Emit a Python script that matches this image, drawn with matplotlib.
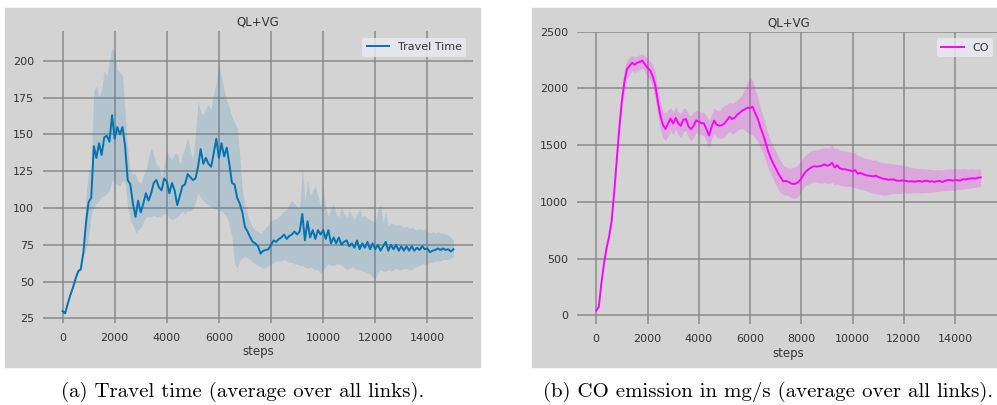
import numpy as np
import matplotlib
matplotlib.use("Agg")
import matplotlib.pyplot as plt
from matplotlib.patches import Rectangle

# simulation steps (one sample every 100 steps)
steps = np.arange(0, 15001, 100)

tt_mean = [
    30, 28.5, 35, 41, 46, 52, 57, 58.5, 70, 90,
    104, 107, 142, 134, 144, 136, 148, 149, 145, 163,
    147, 155, 150, 155, 142, 119, 116, 103, 94, 105,
    97, 103, 110, 105, 110, 117, 119, 114, 112, 120,
    118, 110, 117, 112, 102, 108, 115, 116, 123, 121,
    119, 120, 128, 140, 130, 134, 130, 128, 137, 147,
    134, 144, 135, 141, 130, 117, 116, 107, 103, 97,
    87, 84, 80, 77, 76, 74, 69, 71, 71.5, 72,
    75, 78, 77, 79, 80, 82, 79, 81, 82, 84,
    82, 84, 96, 78, 91, 80, 85, 79, 85, 82,
    85, 79, 85, 76, 80, 76, 80, 75, 77, 78,
    74, 76, 73, 78, 72, 76, 73, 77, 72, 76,
    72, 75, 71, 74, 77, 71, 75, 72, 75, 71,
    74, 71, 74, 71, 74, 71, 73, 71.5, 74, 72,
    72.5, 70, 71, 71.5, 72.5, 71.5, 72.5, 71.5, 72, 70.5,
    72,
]
tt_upper = [
    31, 30, 36, 42, 47, 53, 58, 60, 73, 110,
    125, 127, 180, 183, 176, 180, 193, 190, 200, 209,
    206, 194, 192, 190, 165, 140, 124, 123, 123, 118,
    117, 122, 126, 134, 141, 136, 130, 128, 121, 130,
    139, 135, 133, 137, 137, 130, 136, 142, 148, 140,
    133, 150, 173, 165, 163, 168, 170, 167, 178, 185,
    198, 188, 180, 173, 168, 162, 158, 155, 135, 112,
    102, 96, 90, 87, 85, 84, 83, 85, 87, 89,
    92, 92, 93, 94, 96, 98, 99, 103, 105, 103,
    101, 100, 128, 105, 119, 108, 112, 115, 108, 101,
    114, 100, 94, 100, 103, 96, 94, 101, 96, 94,
    98, 95, 92, 96, 99, 94, 95, 93, 92, 91,
    90, 99, 103, 90, 97, 88, 90, 89, 88, 89,
    88, 87, 88, 86, 87, 86, 85, 86, 85, 86,
    84, 83, 84, 83, 84, 83, 83, 82, 82, 80,
    78,
]
tt_lower = [
    29, 27.5, 34, 40, 45, 51, 56, 57, 67, 72,
    80, 95, 101, 103, 105, 108, 108, 110, 112, 119,
    117, 116, 115, 119, 117, 101, 92, 89, 83, 85,
    87, 90, 94, 94, 94, 95, 94, 94, 95, 96,
    96, 93, 92, 93, 94, 96, 98, 96, 98, 98,
    99, 104, 110, 107, 105, 103, 102, 101, 100, 99,
    99, 98, 96, 94, 88, 80, 62, 59, 64, 66,
    67, 66, 65, 63, 62, 61, 60, 59, 60, 61,
    62, 63, 64, 64, 64, 65, 64, 63, 63, 62,
    62, 61, 61, 60, 59, 60, 59, 58, 58, 56,
    58, 60, 62, 61, 61, 62, 62, 61, 60, 58,
    59, 60, 59, 58, 58, 57, 57, 56, 55, 53,
    52, 56, 58, 57, 57, 58, 57, 58, 59, 58,
    58, 59, 59, 58, 58, 60, 60, 61, 62, 62,
    62, 63, 63, 64, 64, 64, 65, 65, 65, 66,
    67,
]

co_mean = [
    40, 75, 280, 450, 590, 690, 830, 1080, 1370, 1650,
    1890, 2060, 2170, 2200, 2227, 2208, 2227, 2233, 2245, 2212,
    2180, 2160, 2110, 2030, 1890, 1760, 1680, 1642, 1690, 1735,
    1690, 1740, 1692, 1670, 1725, 1730, 1665, 1640, 1672, 1718,
    1707, 1694, 1692, 1640, 1585, 1660, 1716, 1680, 1672, 1675,
    1690, 1720, 1750, 1730, 1740, 1768, 1785, 1805, 1816, 1830,
    1826, 1839, 1783, 1735, 1660, 1600, 1530, 1450, 1390, 1340,
    1295, 1250, 1215, 1180, 1185, 1176, 1162, 1157, 1163, 1178,
    1205, 1245, 1272, 1290, 1305, 1315, 1310, 1314, 1320, 1330,
    1318, 1325, 1345, 1304, 1322, 1296, 1288, 1287, 1281, 1278,
    1268, 1280, 1248, 1255, 1245, 1236, 1231, 1229, 1224, 1232,
    1220, 1212, 1204, 1200, 1195, 1196, 1198, 1188, 1185, 1188,
    1187, 1184, 1179, 1182, 1178, 1181, 1184, 1178, 1184, 1186,
    1178, 1181, 1176, 1182, 1184, 1175, 1185, 1191, 1192, 1187,
    1192, 1190, 1187, 1199, 1198, 1203, 1206, 1207, 1205, 1212,
    1216,
]
co_upper = [
    45, 85, 295, 465, 600, 700, 845, 1100, 1400, 1700,
    1960, 2180, 2250, 2280, 2290, 2275, 2285, 2300, 2305, 2285,
    2265, 2240, 2215, 2150, 2010, 1880, 1800, 1780, 1810, 1830,
    1790, 1840, 1790, 1780, 1830, 1820, 1770, 1760, 1790, 1810,
    1800, 1790, 1790, 1760, 1720, 1770, 1830, 1810, 1800, 1830,
    1850, 1860, 1880, 1870, 1880, 1900, 1920, 1950, 2000, 2060,
    2090, 2070, 1990, 1920, 1830, 1760, 1680, 1600, 1540, 1490,
    1450, 1400, 1360, 1320, 1310, 1300, 1300, 1305, 1310, 1340,
    1370, 1400, 1420, 1440, 1450, 1460, 1455, 1465, 1470, 1480,
    1475, 1480, 1505, 1465, 1475, 1455, 1450, 1450, 1445, 1440,
    1430, 1435, 1410, 1405, 1390, 1385, 1380, 1375, 1365, 1370,
    1355, 1350, 1345, 1342, 1340, 1338, 1335, 1330, 1328, 1325,
    1322, 1315, 1308, 1305, 1298, 1296, 1295, 1290, 1292, 1288,
    1287, 1286, 1282, 1285, 1283, 1281, 1288, 1290, 1292, 1288,
    1296, 1292, 1289, 1295, 1290, 1287, 1292, 1290, 1286, 1290,
    1288,
]
co_lower = [
    35, 65, 265, 435, 570, 670, 815, 1060, 1340, 1600,
    1830, 1960, 2090, 2120, 2160, 2140, 2160, 2165, 2180, 2145,
    2100, 2080, 2010, 1910, 1770, 1640, 1570, 1540, 1580, 1630,
    1590, 1640, 1595, 1565, 1620, 1630, 1565, 1540, 1565, 1610,
    1600, 1590, 1585, 1530, 1480, 1550, 1600, 1570, 1560, 1560,
    1575, 1600, 1620, 1600, 1610, 1630, 1640, 1650, 1630, 1610,
    1600, 1590, 1560, 1530, 1480, 1430, 1370, 1300, 1250, 1200,
    1150, 1110, 1080, 1060, 1060, 1055, 1040, 1030, 1035, 1050,
    1090, 1130, 1150, 1160, 1170, 1178, 1172, 1168, 1165, 1170,
    1163, 1165, 1170, 1150, 1160, 1145, 1140, 1140, 1135, 1135,
    1130, 1128, 1118, 1110, 1105, 1100, 1090, 1085, 1078, 1072,
    1068, 1064, 1060, 1060, 1066, 1072, 1074, 1072, 1074, 1075,
    1076, 1077, 1078, 1078, 1080, 1081, 1080, 1080, 1082, 1083,
    1081, 1085, 1088, 1090, 1093, 1097, 1100, 1100, 1102, 1103,
    1105, 1108, 1110, 1112, 1115, 1118, 1122, 1125, 1128, 1130,
    1134,
]

BG = "#d3d3d3"
GRID = "#8a8a8a"
TXT = "#333333"

fig = plt.figure(figsize=(9.97, 4.05), dpi=100, facecolor="white")

# grey backgrounds of the two embedded figures
W, H = 997.0, 405.0
fig.patches.append(Rectangle((5 / W, 1 - 367 / H), 475 / W, 359 / H,
                             transform=fig.transFigure, color=BG, zorder=-5))
fig.patches.append(Rectangle((532 / W, 1 - 367 / H), 470 / W, 359 / H,
                             transform=fig.transFigure, color=BG, zorder=-5))

ax1 = fig.add_axes([43 / W, 1 - 323 / H, 430 / W, 292 / H])
ax2 = fig.add_axes([577 / W, 1 - 324 / H, 423 / W, 292.3 / H])


def style(ax):
    ax.set_facecolor(BG)
    for s in ax.spines.values():
        s.set_visible(False)
    ax.grid(True, color=GRID, linewidth=1.1)
    ax.set_axisbelow(True)
    ax.tick_params(axis="x", length=0, pad=7, labelsize=8, labelcolor=TXT)
    ax.tick_params(axis="y", length=0, pad=6.5, labelsize=8, labelcolor=TXT)
    ax.set_title("QL+VG", fontsize=8.5, color=TXT, pad=4)
    ax.set_xlabel("steps", fontsize=8.5, color=TXT, labelpad=2)
    ax.set_xlim(-750, 15750)
    ax.set_xticks(range(0, 15000, 2000))


blue = "#0173b2"
ax1.fill_between(steps, tt_lower, tt_upper, color=blue, alpha=0.15, linewidth=0)
ax1.plot(steps, tt_mean, color=blue, lw=1.4, label="Travel Time")
style(ax1)
ax1.set_ylim(21.9, 220.2)
ax1.set_yticks([25, 50, 75, 100, 125, 150, 175, 200])

mag = "#ff00ff"
ax2.fill_between(steps, co_lower, co_upper, color=mag, alpha=0.2, linewidth=0)
ax2.plot(steps, co_mean, color=mag, lw=1.4, label="CO")
style(ax2)
ax2.set_ylim(-77, 2500)
ax2.set_yticks([0, 500, 1000, 1500, 2000, 2500])

for ax in (ax1, ax2):
    leg = ax.legend(loc="upper right", fontsize=8, frameon=True, fancybox=True,
                    handlelength=2.0, borderaxespad=0.6)
    leg.get_frame().set_facecolor("#eaeaf2")
    leg.get_frame().set_edgecolor("none")
    leg.get_frame().set_alpha(0.8)
    for t in leg.get_texts():
        t.set_color(TXT)

fig.text(243 / W, 1 - 392 / H, "(a) Travel time (average over all links).",
         family="cmr10", fontsize=15, ha="center", va="center")
fig.text(768 / W, 1 - 392 / H, "(b) CO emission in mg/s (average over all links).",
         family="cmr10", fontsize=15, ha="center", va="center")

fig.savefig("out.png", dpi=100, facecolor="white")
